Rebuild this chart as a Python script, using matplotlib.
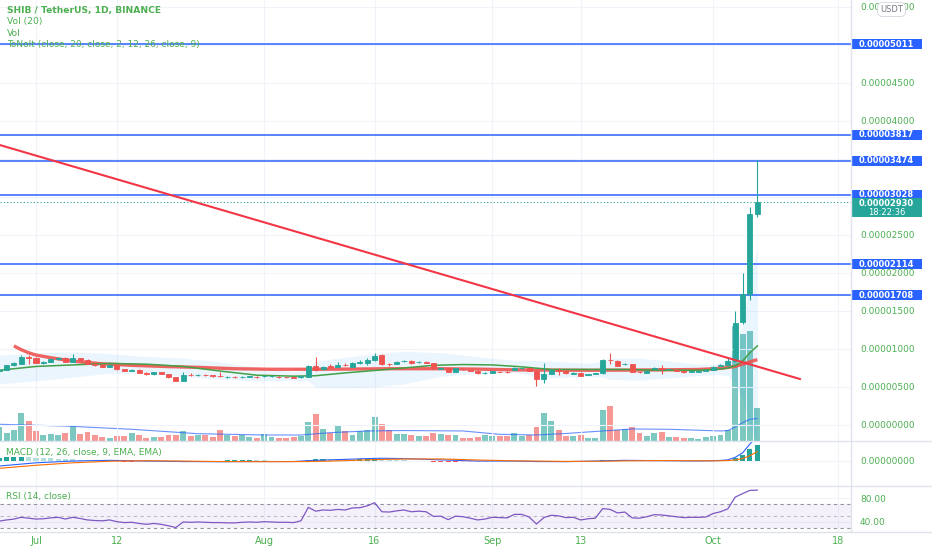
"""Redraw a TradingView SHIB/USDT daily chart: candles, volume, MACD and RSI panes."""

from __future__ import annotations

from pathlib import Path

import matplotlib

matplotlib.use("Agg", force=True)
import matplotlib.dates as mdates
import matplotlib.pyplot as plt
import pandas as pd
from matplotlib.lines import Line2D
from matplotlib.patches import Rectangle
from matplotlib.transforms import blended_transform_factory

# prices in 1e-8 USDT, one candle per day starting FIRST_DAY
FIRST_DAY = "2021-06-26"
opens = [
    705, 725, 785, 808, 890, 880, 820, 830, 868, 878, 835, 877, 860, 806, 786,
    768, 790, 733, 715, 722, 690, 665, 692, 670, 627, 585, 660, 654, 661, 652,
    645, 626, 633, 625, 634, 634, 640, 638, 632, 630, 628, 625, 636, 776, 730,
    772, 768, 792, 768, 818, 815, 855, 920, 805, 803, 840, 846, 825, 828, 811,
    742, 746, 702, 735, 720, 715, 680, 682, 702, 700, 724, 748, 746, 715, 600,
    672, 718, 712, 675, 688, 660, 675, 680, 860, 846, 798, 803, 698, 690, 742,
    748, 730, 720, 712, 700, 702, 713, 724, 782, 790, 840, 1351, 1724, 2772,
]
highs = [
    740, 795, 825, 921, 922, 895, 845, 880, 895, 890, 930, 885, 865, 815, 800,
    800, 800, 742, 735, 730, 698, 700, 700, 675, 632, 697, 680, 670, 672, 660,
    697, 645, 640, 645, 648, 640, 660, 648, 638, 636, 634, 642, 790, 890, 778,
    798, 829, 820, 828, 855, 877, 952, 930, 815, 840, 860, 852, 842, 836, 818,
    760, 752, 752, 742, 726, 720, 698, 716, 708, 706, 760, 765, 752, 722, 812,
    730, 746, 718, 692, 694, 670, 686, 870, 943, 852, 820, 808, 708, 720, 758,
    789, 740, 728, 716, 708, 710, 722, 772, 805, 885, 1500, 2000, 2870, 3490,
]
lows = [
    695, 720, 775, 800, 805, 812, 805, 822, 860, 822, 825, 850, 800, 780, 762,
    760, 728, 710, 705, 685, 660, 660, 665, 622, 575, 575, 645, 645, 645, 632,
    630, 620, 618, 618, 626, 622, 632, 630, 622, 620, 616, 620, 630, 715, 722,
    750, 760, 770, 760, 805, 790, 848, 795, 780, 798, 830, 805, 815, 812, 742,
    735, 698, 698, 725, 710, 676, 672, 678, 694, 690, 718, 740, 710, 510, 549,
    665, 658, 676, 668, 640, 654, 670, 675, 803, 772, 790, 698, 685, 686, 735,
    670, 725, 705, 690, 696, 698, 708, 720, 775, 780, 830, 1330, 1650, 2740,
]
closes = [
    725, 785, 810, 890, 880, 820, 830, 868, 878, 835, 877, 860, 806, 786, 768,
    790, 733, 715, 722, 690, 665, 692, 670, 627, 585, 655, 656, 661, 652, 640,
    640, 633, 625, 636, 640, 628, 650, 641, 627, 625, 622, 638, 776, 724, 768,
    764, 794, 785, 820, 825, 855, 912, 803, 800, 833, 848, 811, 833, 820, 746,
    750, 702, 746, 730, 715, 682, 688, 710, 700, 697, 755, 755, 715, 600, 672,
    724, 710, 680, 682, 645, 665, 682, 855, 852, 778, 808, 702, 692, 715, 750,
    742, 735, 712, 694, 705, 707, 718, 768, 792, 840, 1346, 1724, 2772, 2930,
]
# volume in billions of SHIB
volumes = [
    1330, 730, 1100, 2700, 1900, 930, 570, 670, 570, 770, 1430, 670, 870, 530,
    400, 330, 470, 470, 730, 530, 330, 400, 400, 530, 600, 930, 470, 570, 600,
    400, 1100, 570, 470, 570, 400, 330, 670, 400, 330, 330, 400, 470, 1850,
    2550, 1170, 730, 1430, 1000, 600, 1000, 1100, 2250, 1650, 1100, 670, 670,
    570, 470, 470, 800, 670, 600, 570, 330, 330, 400, 530, 470, 470, 470, 800,
    470, 570, 1370, 2700, 1900, 1070, 470, 470, 570, 330, 330, 2980, 3350,
    1070, 1170, 1300, 800, 470, 800, 870, 400, 400, 330, 330, 230, 400, 470,
    530, 1100, 11000, 10250, 10550, 3150,
]
rsi_values = [
    41, 43, 44.5, 47.5, 46, 44.5, 45, 46.5, 47.5, 44.5, 47.5, 45.5, 43, 42,
    41.5, 43, 40, 38.5, 39, 37, 35.5, 37, 35.5, 33, 30, 39.5, 39, 39.5, 39,
    38.5, 38.5, 38, 38, 39, 39.5, 39, 40, 39.5, 39, 39, 38.5, 41.5, 64.5, 58,
    60, 59.5, 61, 60, 63.5, 64, 67, 72.5, 57, 56.5, 58.5, 60, 57, 58, 57, 49,
    49.5, 43.5, 49.5, 48.5, 46, 43, 44.5, 47.5, 47, 46.5, 52.5, 52.5, 48, 36,
    47, 51, 50, 47, 47.5, 43, 45, 46, 62.5, 61, 55, 56.5, 46.5, 46, 48.5, 52,
    51.5, 50, 48.5, 47, 47.5, 47.5, 48, 54, 57, 62, 82, 88, 93.5, 94,
]
# MACD histogram per day, in 1e-8 USDT
macd_hist = [
    45, 50, 50, 55, 50, 45, 40, 35, 30, 25, 20, 15, 10, 5, 2, -5, -10, -12,
    -15, -15, -12, -10, -8, -10, -12, -8, -5, -3, -2, 0, 2, 3, 4, 5, 5, 4, 3,
    2, 2, 1, 1, 1, 12, 18, 22, 20, 18, 16, 17, 18, 20, 24, 16, 10, 7, 5, 2,
    -4, -8, -12, -15, -18, -20, -19, -17, -14, -12, -10, -7, -4, -1, 2, 1, -6,
    -8, -6, -4, -4, -4, -5, -5, -4, 6, 10, 11, 9, 4, 1, -2, -2, -3, -4, -4,
    -5, -4, -3, -2, 2, 5, 10, 38, 81, 167, 225,
]

# indicator lines read at sampled candles (index into the candle list)
sma_idx = [0, 5, 10, 15, 20, 25, 30, 35, 40, 43, 47, 51, 55, 59, 63, 67, 71,
           75, 80, 85, 90, 95, 97, 98, 99, 100, 101, 102, 103]
sma_values = [720, 770, 790, 810, 800, 770, 710, 655, 642, 648, 685, 717, 750,
              785, 795, 790, 765, 730, 730, 730, 720, 720, 730, 735, 750, 780,
              840, 950, 1040]
slow_idx = [2, 3, 4, 5, 7, 9, 11, 14, 18, 23, 27, 32, 37, 42, 47, 53, 60, 65,
            70, 75, 80, 85, 90, 95, 98, 100, 101, 102, 103]
slow_values = [1040, 990, 950, 920, 885, 855, 830, 805, 785, 768, 758, 740,
               733, 733, 735, 740, 740, 735, 725, 722, 720, 722, 725, 730, 745,
               770, 800, 830, 860]
band_idx = [0, 5, 10, 15, 20, 25, 30, 35, 40, 42, 43, 47, 51, 55, 60, 65, 70,
            73, 75, 80, 82, 83, 87, 91, 95, 97, 98, 99, 100, 101, 102, 103]
band_upper = [920, 950, 960, 940, 900, 880, 830, 760, 700, 720, 840, 890, 940,
              970, 950, 900, 850, 850, 840, 810, 840, 880, 880, 840, 800, 800,
              820, 880, 1050, 1310, 1900, 2340]
band_lower = [540, 580, 630, 680, 680, 640, 600, 580, 585, 580, 500, 490, 500,
              540, 640, 680, 690, 640, 620, 640, 630, 600, 590, 620, 650, 660,
              660, 650, 520, 350, -40, -260]
vol_ma_idx = [0, 9, 18, 27, 36, 41, 45, 50, 55, 63, 68, 73, 77, 82, 86, 91, 95,
              98, 99, 100, 101, 102, 103]
vol_ma_values = [1600, 1430, 1120, 700, 575, 575, 800, 960, 1000, 960, 640,
                 575, 720, 960, 1150, 1120, 1030, 960, 1000, 1340, 1750,
                 2080, 2150]
macd_idx = [0, 5, 10, 15, 20, 25, 30, 35, 40, 42, 45, 50, 52, 55, 60, 65, 70,
            73, 77, 82, 85, 90, 95, 97, 98, 99, 100, 101, 102, 103]
macd_line = [-76, -30, -5, 5, -5, -12, -15, -12, -12, 0, 12, 30, 35, 30, 12,
             -5, -5, -12, -14, -2, 5, 0, -4, 0, 4, 12, 48, 111, 239, 353]
signal_line = [-109, -65, -30, -8, 0, -5, -12, -14, -13, -12, -6, 12, 18, 24,
               25, 10, -2, -5, -10, -8, -3, 2, -1, -2, -1, 2, 10, 30, 72, 128]

# drawn objects
levels = [5011, 3817, 3474, 3028, 2114, 1708]
last_price = 2930
countdown = "18:22:36"
trend_dates = ["2021-06-26 00:00", "2021-10-12 19:00"]
trend_values = [3686, 605]
tick_dates = ["2021-07-01", "2021-07-12", "2021-08-01", "2021-08-16",
              "2021-09-01", "2021-09-13", "2021-10-01", "2021-10-18"]
tick_labels = ["Jul", "12", "Aug", "16", "Sep", "13", "Oct", "18"]
price_ticks = list(range(0, 5501, 500))
hidden_price_ticks = [5000, 3500, 3000]

UP = "#26A69A"
DOWN = "#EF5350"
TEXT_GREEN = "#4CAF50"
LEVEL_BLUE = "#2962FF"
GRID = "#F0F3FA"
BORDER = "#E0E3EB"

W_PX, H_PX = 932, 550
AXIS_X = 851
BOX_RIGHT = 922
MAIN_BOTTOM = 441
MACD_BOTTOM = 486
RSI_BOTTOM = 532
PX_PER_DAY = 7.36
JUL1_X = 36


def fmt_price(value: float) -> str:
    return f"{value * 1e-8:.8f}"


def main() -> None:
    output_path = Path("out.png")
    fig = plt.figure(figsize=(W_PX / 100, H_PX / 100), dpi=100)
    fig.patch.set_facecolor("white")

    def pane(top: int, bottom: int, sharex=None):
        rect = [0, 1 - bottom / H_PX, AXIS_X / W_PX, (bottom - top) / H_PX]
        return fig.add_axes(rect, sharex=sharex)

    ax_vol = pane(0, MAIN_BOTTOM)
    ax = pane(0, MAIN_BOTTOM, sharex=ax_vol)
    ax_m = pane(MAIN_BOTTOM, MACD_BOTTOM, sharex=ax_vol)
    ax_r = pane(MACD_BOTTOM, RSI_BOTTOM, sharex=ax_vol)
    ax.patch.set_visible(False)

    dates = pd.date_range(FIRST_DAY, periods=len(closes), freq="D")
    x = mdates.date2num(dates)
    jul1 = mdates.date2num(pd.Timestamp("2021-07-01"))
    ax.set_xlim(jul1 - JUL1_X / PX_PER_DAY, jul1 + (AXIS_X - JUL1_X) / PX_PER_DAY)

    main_ylim = (-211, 5592)
    ax.set_ylim(*main_ylim)
    ax_vol.set_ylim(0, 42200)
    ax_m.set_ylim(-361, 281)
    ax_r.set_ylim(22.4, 101)
    units_per_px = (main_ylim[1] - main_ylim[0]) / MAIN_BOTTOM

    colors = [UP if c >= o else DOWN for o, c in zip(opens, closes)]

    # volume underneath everything
    ax_vol.bar(x, volumes, width=0.8, color=colors, alpha=0.6, linewidth=0)
    ax_vol.plot(x[vol_ma_idx], vol_ma_values, color=LEVEL_BLUE, linewidth=0.8, alpha=0.7)
    ax_vol.axis("off")

    # price pane
    ax.fill_between(x[band_idx], band_lower, band_upper, color="#2196F3", alpha=0.09,
                    linewidth=0, zorder=1)
    for lv in levels:
        ax.axhline(lv, color=LEVEL_BLUE, linewidth=1.1, zorder=2)
    ax.axhline(last_price, color=UP, linewidth=0.8, linestyle=(0, (1, 2)), zorder=2)
    ax.plot(x[slow_idx], slow_values, color=DOWN, linewidth=2.4, alpha=0.9, zorder=3,
            solid_capstyle="butt")
    ax.plot(x[sma_idx], sma_values, color="#43A047", linewidth=1.1, zorder=3)
    ax.vlines(x, lows, highs, colors=colors, linewidth=0.8, zorder=4)
    body_low = [min(o, c) for o, c in zip(opens, closes)]
    body_h = [abs(c - o) for o, c in zip(opens, closes)]
    ax.bar(x, body_h, bottom=body_low, width=0.68, color=colors, edgecolor=colors,
           linewidth=0.6, zorder=4)
    trend_x = mdates.date2num(pd.to_datetime(trend_dates))
    ax.plot(trend_x, trend_values, color="#F23645", linewidth=1.5, zorder=5)

    # MACD pane
    hist_colors = []
    prev = 0
    for h in macd_hist:
        if h >= 0:
            hist_colors.append("#26A69A" if h >= prev else "#B2DFDB")
        else:
            hist_colors.append("#FFCDD2" if h >= prev else "#FF5252")
        prev = h
    ax_m.bar(x, macd_hist, width=0.7, color=hist_colors, linewidth=0)
    ax_m.plot(x[macd_idx], macd_line, color=LEVEL_BLUE, linewidth=0.8)
    ax_m.plot(x[macd_idx], signal_line, color="#FF6D00", linewidth=0.8)

    # RSI pane
    ax_r.axhspan(30, 70, color="#7E57C2", alpha=0.08, linewidth=0)
    for lv, a in ((70, 0.8), (50, 0.45), (30, 0.8)):
        ax_r.axhline(lv, color="#787B86", linewidth=0.8, alpha=a, linestyle=(0, (3, 3)))
    ax_r.plot(x, rsi_values, color="#7E57C2", linewidth=0.9)

    # ticks and grids
    tick_x = mdates.date2num(pd.to_datetime(tick_dates))
    ax_r.set_xticks(tick_x)
    ax_r.set_xticklabels(tick_labels)
    ax.set_yticks(price_ticks)
    ax.set_yticklabels(["" if t in hidden_price_ticks else fmt_price(t) for t in price_ticks])
    ax_m.set_yticks([0])
    ax_m.set_yticklabels([fmt_price(0)])
    ax_r.set_yticks([40, 80])
    ax_r.set_yticklabels(["40.00", "80.00"])
    for a in (ax, ax_m, ax_r):
        a.yaxis.tick_right()
        a.tick_params(axis="y", length=0, pad=6.5, labelsize=6.5, labelcolor=TEXT_GREEN)
        a.tick_params(axis="x", length=0, pad=3, labelsize=7, labelcolor=TEXT_GREEN)
        a.grid(True, color=GRID, linewidth=0.8)
        a.set_axisbelow(True)
        for spine in a.spines.values():
            spine.set_visible(False)
    ax.tick_params(axis="x", labelbottom=False)
    ax_m.tick_params(axis="x", labelbottom=False)

    # price labels on the right axis
    trans = blended_transform_factory(fig.transFigure, ax.transData)
    box_x = AXIS_X / W_PX
    box_w = (BOX_RIGHT - AXIS_X) / W_PX
    box_mid = (AXIS_X + BOX_RIGHT) / 2 / W_PX
    for lv in levels:
        ax.add_patch(Rectangle((box_x, lv - 5 * units_per_px), box_w, 10 * units_per_px,
                               transform=trans, facecolor=LEVEL_BLUE, edgecolor="none",
                               clip_on=False, zorder=10))
        ax.text(box_mid, lv, fmt_price(lv), transform=trans, ha="center", va="center",
                color="white", fontsize=6, fontweight="bold", clip_on=False, zorder=11)
    ax.add_patch(Rectangle((box_x, last_price - 15 * units_per_px), box_w, 19 * units_per_px,
                           transform=trans, facecolor=UP, edgecolor="none",
                           clip_on=False, zorder=12))
    ax.text(box_mid, last_price - 1.5 * units_per_px, fmt_price(last_price), transform=trans,
            ha="center", va="center", color="white", fontsize=6, fontweight="bold",
            clip_on=False, zorder=13)
    ax.text(box_mid, last_price - 10 * units_per_px, countdown, transform=trans,
            ha="center", va="center", color="white", fontsize=6, clip_on=False, zorder=13)

    def fx(px: float) -> float:
        return px / W_PX

    def fy(px: float) -> float:
        return 1 - px / H_PX

    # currency badge sits on top of the highest price label, as in the reference
    fig.text(fx(891.5), fy(9.5), "USDT", ha="center", va="center", fontsize=6,
             color="#787B86",
             bbox=dict(boxstyle="round,pad=0.3,rounding_size=0.6", fc="white",
                       ec="#D1D4DC", lw=0.6))

    # legends
    fig.text(fx(7), fy(10), "SHIB / TetherUS, 1D, BINANCE", ha="left", va="center",
             fontsize=6.6, fontweight="bold", color=TEXT_GREEN)
    fig.text(fx(7), fy(21.5), "Vol (20)", ha="left", va="center", fontsize=6.6,
             color=TEXT_GREEN)
    fig.text(fx(7), fy(33), "Vol", ha="left", va="center", fontsize=6.6, color=TEXT_GREEN)
    fig.text(fx(7), fy(44), "ToNoIt (close, 20, close, 2, 12, 26, close, 9)", ha="left",
             va="center", fontsize=6.5, color=TEXT_GREEN)
    fig.text(fx(6), fy(452), "MACD (12, 26, close, 9, EMA, EMA)", ha="left", va="center",
             fontsize=6.5, color=TEXT_GREEN)
    fig.text(fx(6), fy(496), "RSI (14, close)", ha="left", va="center", fontsize=6.5,
             color=TEXT_GREEN)

    # pane separators
    for y in (MAIN_BOTTOM, MACD_BOTTOM, RSI_BOTTOM):
        fig.add_artist(Line2D([0, 1], [fy(y), fy(y)], transform=fig.transFigure,
                              color=BORDER, linewidth=1))
    fig.add_artist(Line2D([fx(AXIS_X)] * 2, [fy(RSI_BOTTOM), 1], transform=fig.transFigure,
                          color=BORDER, linewidth=1))

    fig.savefig(output_path, dpi=100)
    plt.close(fig)
    print(f"wrote {output_path}")


if __name__ == "__main__":
    main()
